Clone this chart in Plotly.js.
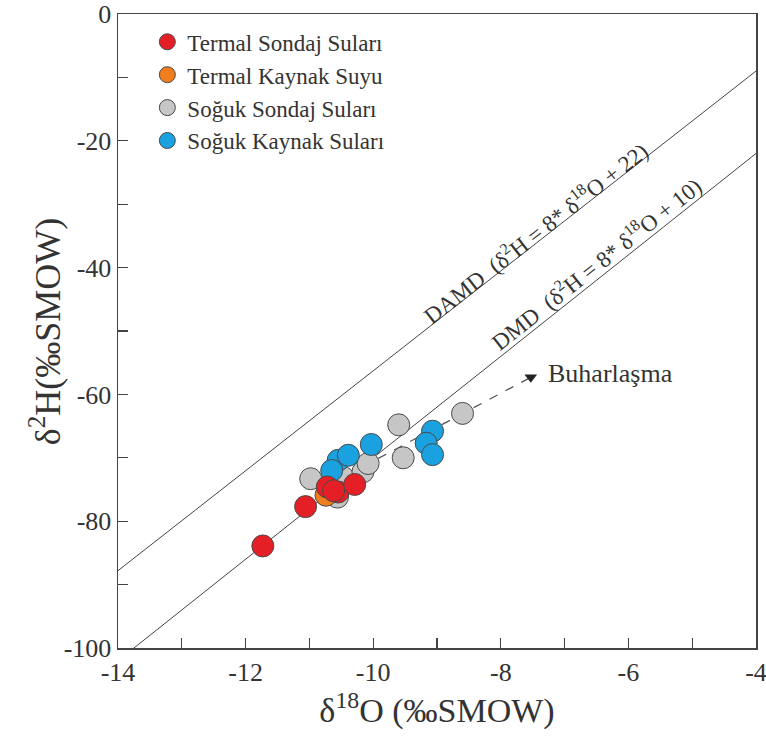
<!DOCTYPE html>
<html>
<head>
<meta charset="utf-8">
<script src="https://cdn.plot.ly/plotly-3.0.1.min.js"></script>
<style>html,body{margin:0;padding:0;background:#fff}#chart{width:766px;height:740px}</style>
</head>
<body>
<div id="chart"></div>
<script>
// ---- data ----
const seriesNames = ["Termal Sondaj Suları", "Termal Kaynak Suyu", "Soğuk Sondaj Suları", "Soğuk Kaynak Suları"];

const termalSondajX = [-11.73, -11.06, -10.72, -10.55, -10.29, -10.62];
const termalSondajY = [-83.9, -77.7, -74.6, -75.4, -74.2, -75.2];

const termalKaynakX = [-10.74];
const termalKaynakY = [-75.9];

const sogukSondajX = [-10.98, -10.56, -10.47, -10.16, -10.08, -9.60, -9.53, -8.60];
const sogukSondajY = [-73.3, -76.2, -73.1, -72.2, -70.9, -64.8, -70.0, -63.0];

const sogukKaynakX = [-10.03, -10.55, -10.39, -10.65, -9.07, -9.17, -9.07];
const sogukKaynakY = [-67.9, -70.4, -69.6, -72.0, -65.8, -67.7, -69.5];

// meteoric water lines (end points read at the plot edges)
const lineX = [-14, -4];
const damdY = [-87.8, -9.0];
const dmdY = [-102, -22];

// evaporation trend
const evapX = [-9.92, -7.53];
const evapY = [-70.1, -57.3];

const xTickVals = [-14, -12, -10, -8, -6, -4];
const xTickText = ["-14", "-12", "-10", "-8", "-6", "-4"];
const yTickVals = [0, -20, -40, -60, -80, -100];
const yTickText = ["0", "-20", "-40", "-60", "-80", "-100"];

// ---- chart ----
const FONT = "Liberation Serif";
const TXT = "#333";
const outline = {color: "#4a4a4a", width: 1};

const traces = [
  {x: lineX, y: damdY, mode: "lines", line: {color: "#444", width: 1}, showlegend: false, hoverinfo: "skip"},
  {x: lineX, y: dmdY, mode: "lines", line: {color: "#444", width: 1}, showlegend: false, hoverinfo: "skip"},
  {x: evapX, y: evapY, mode: "lines", line: {color: "#555", width: 1.3, dash: "dash"}, showlegend: false, hoverinfo: "skip"},
  {x: [evapX[1]], y: [evapY[1]], mode: "markers", marker: {symbol: "triangle-down", size: 11, color: "#222"}, showlegend: false, hoverinfo: "skip"},
  {x: sogukSondajX, y: sogukSondajY, name: seriesNames[2], mode: "markers", legendrank: 3,
   marker: {size: 22, color: "#c6c6c6", line: outline}},
  {x: sogukKaynakX, y: sogukKaynakY, name: seriesNames[3], mode: "markers", legendrank: 4,
   marker: {size: 22, color: "#1aa1e0", line: outline}},
  {x: termalKaynakX, y: termalKaynakY, name: seriesNames[1], mode: "markers", legendrank: 2,
   marker: {size: 22, color: "#f07d1e", line: outline}},
  {x: termalSondajX, y: termalSondajY, name: seriesNames[0], mode: "markers", legendrank: 1,
   marker: {size: 22, color: "#e41f26", line: outline}}
];

const axisCommon = {
  showgrid: false, zeroline: false, showline: true, linecolor: "#444", linewidth: 1.5, mirror: true,
  ticks: "inside", ticklen: 10, tickwidth: 1.2, tickcolor: "#444",
  tickfont: {family: FONT, size: 26, color: TXT}, ticklabeloverflow: "allow",
  minor: {ticks: "inside", ticklen: 10, tickwidth: 1.2, tickcolor: "#444", dtick: 10}
};

const layout = {
  width: 766, height: 740,
  font: {family: FONT, color: TXT},
  margin: {l: 118, r: 10, t: 14, b: 92},
  paper_bgcolor: "#fff", plot_bgcolor: "#fff",
  showlegend: true,
  legend: {x: 0.046, y: 0.99, xanchor: "left", yanchor: "top", bgcolor: "rgba(0,0,0,0)",
           font: {family: FONT, size: 23, color: TXT}, tracegroupgap: 0, itemsizing: "trace"},
  xaxis: Object.assign({}, axisCommon, {
    range: [-14, -4], tickmode: "array", tickvals: xTickVals, ticktext: xTickText,
    minor: Object.assign({}, axisCommon.minor, {dtick: 1, tick0: -14}),
    title: {text: "δ<sup>18</sup>O (‰SMOW)", font: {family: FONT, size: 34, color: TXT}, standoff: 6}
  }),
  yaxis: Object.assign({}, axisCommon, {
    range: [-100, 0], tickmode: "array", tickvals: yTickVals, ticktext: yTickText,
    minor: Object.assign({}, axisCommon.minor, {dtick: 10, tick0: 0})
  }),
  annotations: [
    {x: -0.114, y: 0.5, xref: "paper", yref: "paper", showarrow: false, textangle: -90,
     xanchor: "center", yanchor: "middle",
     text: "δ<sup>2</sup>H(‰SMOW)", font: {family: FONT, size: 36, color: TXT}},
    {x: -7.46, y: -34.5, xref: "x", yref: "y", showarrow: false, textangle: -38,
     text: "DAMD\u00A0\u00A0(δ<sup>2</sup>H = 8* δ<sup>18</sup>O + 22)",
     font: {family: FONT, size: 23, color: TXT}},
    {x: -6.51, y: -39.4, xref: "x", yref: "y", showarrow: false, textangle: -38.5,
     text: "DMD\u00A0\u00A0(δ<sup>2</sup>H = 8* δ<sup>18</sup>O + 10)",
     font: {family: FONT, size: 23, color: TXT}},
    {x: -7.29, y: -56.7, xref: "x", yref: "y", showarrow: false, xanchor: "left",
     text: "Buharlaşma", font: {family: FONT, size: 26, color: TXT}}
  ]
};

Plotly.newPlot("chart", traces, layout, {displayModeBar: false, staticPlot: true});
</script>
</body>
</html>
